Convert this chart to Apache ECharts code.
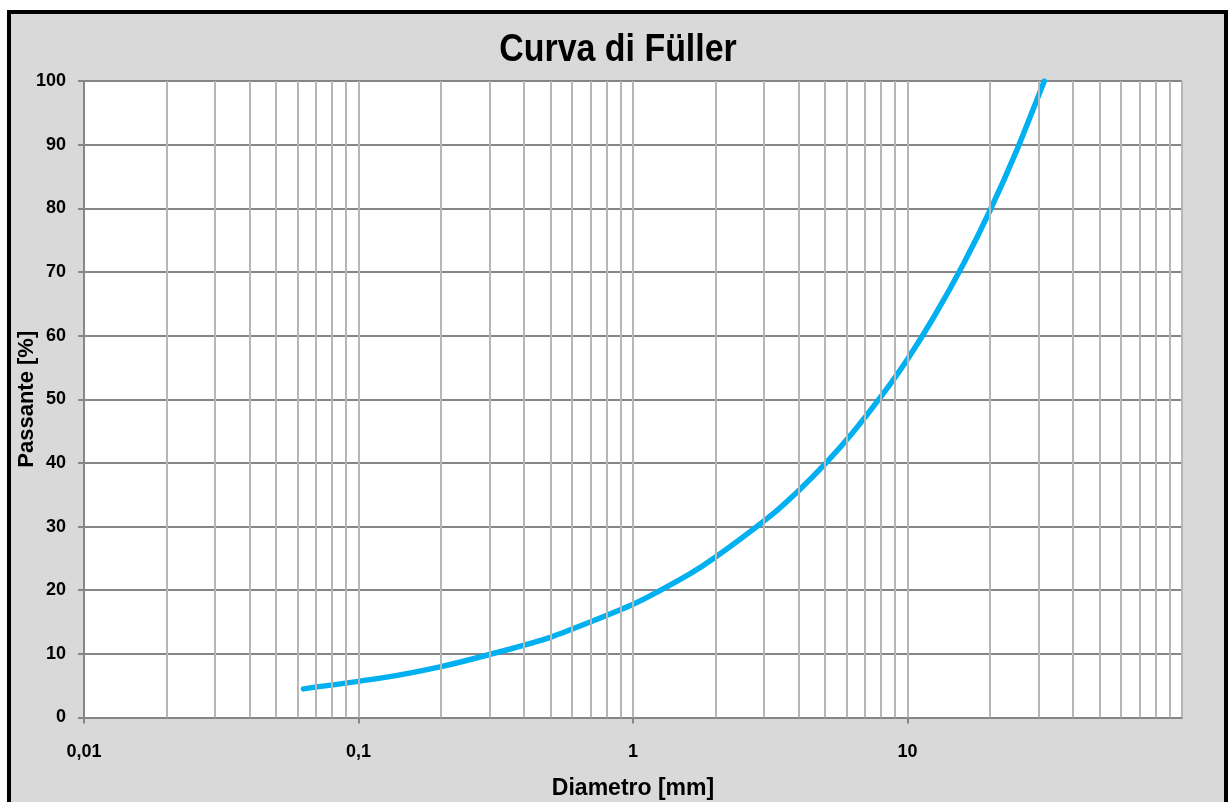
<!DOCTYPE html>
<html>
<head>
<meta charset="utf-8">
<script src="https://cdn.jsdelivr.net/npm/echarts@6/dist/echarts.min.js"></script>
<style>
  html, body { margin: 0; padding: 0; background: #ffffff; }
  #frame { position: absolute; left: 7px; top: 10px; width: 1221px; height: 810px;
           box-sizing: border-box; border: 4px solid #000; background: #d9d9d9; }
  #chart { position: absolute; left: 0; top: 0; width: 1232px; height: 802px; }
</style>
</head>
<body>
<div id="frame"></div>
<div id="chart"></div>
<script>
// Sieve diameters [mm] and passing percentages
const diameters = [0.063, 0.125, 0.2, 0.3, 0.5, 1, 1.6, 2, 3.15, 4, 5, 6.3, 8, 10, 12.5, 16, 20, 25, 31.5];
const passing   = [4.5, 6.3, 8.0, 9.9, 12.6, 17.8, 22.5, 25.2, 31.6, 35.6, 39.8, 44.7, 50.4, 56.3, 63.0, 71.3, 79.7, 89.1, 100];

// Vertical (log) grid positions: 1..9 x each decade from 0.01 to 100
const xGridValues = [0.02,0.03,0.04,0.05,0.06,0.07,0.08,0.09,
                     0.1,0.2,0.3,0.4,0.5,0.6,0.7,0.8,0.9,
                     1,2,3,4,5,6,7,8,9,
                     10,20,30,40,50,60,70,80,90,100];
const xTickValues = [0.01, 0.1, 1, 10];
const xTickLabels = ['0,01', '0,1', '1', '10'];

const titleText = 'Curva di Füller';
const xName = 'Diametro [mm]';
const yName = 'Passante [%]';

const FONT = '"Liberation Sans", Arial, sans-serif';
const chart = echarts.init(document.getElementById('chart'), null, {renderer: 'canvas'});

chart.setOption({
  backgroundColor: 'transparent',
  animation: false,
  graphic: [{
    type: 'text',
    x: 618, y: 50,
    scaleX: 0.87,
    style: {
      text: titleText,
      font: 'bold 39px ' + FONT,
      fill: '#000',
      textAlign: 'center',
      textVerticalAlign: 'middle'
    }
  }],
  grid: {
    left: 84, top: 81, right: 50, bottom: 84.5,
    outerBoundsMode: 'none',
    containLabel: false,
    show: true, backgroundColor: '#ffffff', borderWidth: 0
  },
  xAxis: {
    type: 'log', logBase: 10, min: 0.01, max: 100,
    name: xName, nameLocation: 'middle', nameGap: 60, nameMoveOverlap: false,
    nameTextStyle: {fontFamily: FONT, fontWeight: 'bold', fontSize: 23, color: '#000'},
    axisLine: {show: true, lineStyle: {color: '#868686', width: 2}},
    axisTick: {show: true, length: 6, inside: false, customValues: xTickValues,
               lineStyle: {color: '#868686', width: 2}},
    axisLabel: {
      margin: 26, fontFamily: FONT, fontWeight: 'bold', fontSize: 18, color: '#000',
      customValues: xTickValues,
      formatter: function (v) {
        let best = 0, bestErr = Infinity;
        xTickValues.forEach((t, i) => {
          const e = Math.abs(Math.log10(t) - Math.log10(v));
          if (e < bestErr) { bestErr = e; best = i; }
        });
        return bestErr < 1e-6 ? xTickLabels[best] : '';
      }
    },
    splitLine: {show: false},
    minorTick: {show: false},
    z: 3
  },
  yAxis: {
    type: 'value', min: 0, max: 100, interval: 10,
    name: yName, nameLocation: 'middle', nameGap: 46, nameRotate: 90, nameMoveOverlap: false,
    nameTextStyle: {fontFamily: FONT, fontWeight: 'bold', fontSize: 22, color: '#000'},
    axisLine: {show: true, lineStyle: {color: '#868686', width: 2}},
    axisTick: {show: true, length: 6, inside: false, lineStyle: {color: '#868686', width: 2}},
    axisLabel: {margin: 18, fontFamily: FONT, fontWeight: 'bold', fontSize: 18, color: '#000'},
    splitLine: {show: true, lineStyle: {color: '#868686', width: 2}},
    z: 2
  },
  series: [
    {
      type: 'line',
      data: [],
      z: 1,
      silent: true,
      markLine: {
        silent: true,
        symbol: ['none', 'none'],
        label: {show: false},
        lineStyle: {color: '#b6b6b6', width: 2, type: 'solid'},
        data: xGridValues.map(v => ({xAxis: v}))
      }
    },
    {
      type: 'line',
      data: diameters.map((d, i) => [d, passing[i]]),
      smooth: 0.2,
      symbol: 'none',
      z: 4,
      lineStyle: {color: '#00b0f0', width: 5.5, cap: 'round', join: 'round'}
    }
  ]
});
</script>
</body>
</html>
